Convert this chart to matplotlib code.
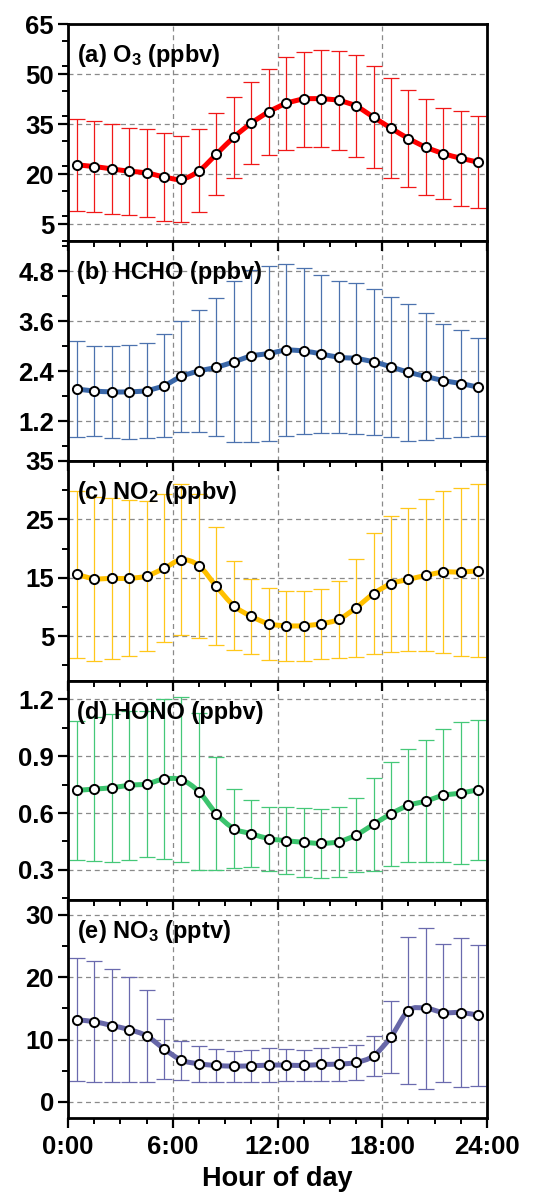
import numpy as np
import matplotlib
matplotlib.use('Agg')
import matplotlib.pyplot as plt
from matplotlib.path import Path
from matplotlib.patches import PathPatch
from matplotlib.ticker import MultipleLocator

plt.rcParams['font.family'] = ['Liberation Sans', 'DejaVu Sans']
plt.rcParams['font.weight'] = 'bold'
plt.rcParams['mathtext.fontset'] = 'custom'
plt.rcParams['mathtext.rm'] = 'Liberation Sans:bold'
plt.rcParams['mathtext.bf'] = 'Liberation Sans:bold'
plt.rcParams['mathtext.it'] = 'Liberation Sans:bold'

hours = np.arange(0.5, 24, 1.0)

o3_mean = [22.8, 22.3, 21.6, 20.9, 20.4, 19.2, 18.5, 21.0, 26.0, 31.1, 35.3, 38.7,
           41.2, 42.5, 42.6, 42.1, 40.4, 37.1, 33.8, 30.7, 28.1, 26.2, 24.8, 23.6]
o3_err = [13.7, 13.6, 13.5, 13.05, 13.25, 13.25, 12.85, 12.45, 12.35, 12.15, 12.25, 12.9,
          13.85, 14.25, 14.55, 14.8, 15.2, 15.3, 15.0, 14.5, 14.3, 13.75, 14.2, 13.75]

hcho_mean = [1.98, 1.93, 1.91, 1.91, 1.94, 2.06, 2.28, 2.41, 2.50, 2.63, 2.77, 2.83,
             2.91, 2.89, 2.82, 2.74, 2.71, 2.63, 2.51, 2.38, 2.28, 2.18, 2.11, 2.02]
hcho_err = [1.15, 1.085, 1.105, 1.13, 1.15, 1.23, 1.33, 1.46, 1.65, 1.93, 2.07, 2.10,
            2.07, 1.99, 1.90, 1.82, 1.81, 1.75, 1.68, 1.64, 1.52, 1.37, 1.29, 1.18]

no2_mean = [15.57, 14.83, 14.89, 14.89, 15.29, 16.6, 18.09, 17.06, 13.51, 10.2, 8.37, 7.11,
            6.77, 6.77, 7.11, 7.86, 9.86, 12.26, 13.97, 14.71, 15.4, 15.97, 15.97, 16.2]
no2_err = [14.31, 14.06, 13.74, 13.37, 12.83, 12.69, 12.97, 12.34, 10.11, 7.63, 6.49, 6.14,
           5.97, 5.97, 6.03, 6.63, 8.43, 10.4, 11.69, 12.31, 13.03, 13.83, 14.34, 14.83]

hono_mean = [0.719, 0.726, 0.733, 0.746, 0.753, 0.779, 0.775, 0.712, 0.596, 0.518, 0.491, 0.465,
             0.454, 0.446, 0.440, 0.449, 0.484, 0.540, 0.596, 0.640, 0.663, 0.693, 0.705, 0.723]
hono_err = [0.365, 0.379, 0.389, 0.393, 0.384, 0.42, 0.435, 0.412, 0.297, 0.206, 0.175, 0.169,
            0.175, 0.181, 0.182, 0.184, 0.196, 0.243, 0.274, 0.299, 0.321, 0.349, 0.375, 0.368]

no3_mean = [13.15, 12.88, 12.24, 11.6, 10.59, 8.5, 6.69, 6.1, 5.83, 5.73, 5.78, 5.89,
            5.89, 5.83, 6.0, 6.05, 6.32, 7.38, 10.43, 14.65, 15.02, 14.33, 14.33, 13.9]
no3_err = [9.88, 9.77, 9.13, 8.36, 7.34, 4.81, 3.15, 2.86, 2.62, 2.48, 2.54, 2.67,
           2.62, 2.54, 2.59, 2.67, 2.8, 3.18, 5.82, 11.85, 12.95, 11.08, 11.9, 11.35]

labels = [r"(a) O$_{3}$ (ppbv)", "(b) HCHO (ppbv)", r"(c) NO$_{2}$ (ppbv)",
          "(d) HONO (ppbv)", r"(e) NO$_{3}$ (pptv)"]
means = [o3_mean, hcho_mean, no2_mean, hono_mean, no3_mean]
errs = [o3_err, hcho_err, no2_err, hono_err, no3_err]
line_colors = ['#FF0000', '#3A67A8', '#FFC000', '#3CC46E', '#6767A8']
bar_colors = ['#F01818', '#4C72AE', '#FFC71A', '#45C878', '#6A6AAE']
ylims = [(0, 65), (0.25, 5.53), (-2.7, 35), (0.142, 1.295), (-2.6, 32.4)]
ymajor = [[5, 20, 35, 50, 65], [1.2, 2.4, 3.6, 4.8], [5, 15, 25, 35],
          [0.3, 0.6, 0.9, 1.2], [0, 10, 20, 30]]
ytick_labels = [["5", "20", "35", "50", "65"], ["1.2", "2.4", "3.6", "4.8"],
                ["5", "15", "25", "35"], ["0.3", "0.6", "0.9", "1.2"],
                ["0", "10", "20", "30"]]
xticks = [0, 6, 12, 18, 24]
xtick_labels = ["0:00", "6:00", "12:00", "18:00", "24:00"]

W, H = 538, 1200
fig = plt.figure(figsize=(W / 100, H / 100), dpi=100)
edges = [24, 241, 461, 681, 900, 1118]
left, right = 68, 487


def smooth_path(x, y):
    x = np.asarray(x, float)
    y = np.asarray(y, float)
    px = np.concatenate([[x[0]], x, [x[-1]]])
    py = np.concatenate([[y[0]], y, [y[-1]]])
    verts = [(x[0], y[0])]
    codes = [Path.MOVETO]
    for i in range(1, len(px) - 2):
        c1 = (px[i] + (px[i + 1] - px[i - 1]) / 6, py[i] + (py[i + 1] - py[i - 1]) / 6)
        c2 = (px[i + 1] - (px[i + 2] - px[i]) / 6, py[i + 1] - (py[i + 2] - py[i]) / 6)
        verts += [c1, c2, (px[i + 1], py[i + 1])]
        codes += [Path.CURVE4] * 3
    return Path(verts, codes)


axes = []
for k in range(5):
    top, bot = edges[k], edges[k + 1]
    ax = fig.add_axes([left / W, 1 - bot / H, (right - left) / W, (bot - top) / H])
    axes.append(ax)
    m = means[k]
    e = errs[k]
    ax.errorbar(hours, m, yerr=e, fmt='none', ecolor=bar_colors[k], elinewidth=0.9,
                capsize=5.5, capthick=0.9, zorder=2)
    ax.add_patch(PathPatch(smooth_path(hours, m), fill=False, edgecolor=line_colors[k],
                           lw=3.6, zorder=3, capstyle='round', joinstyle='round'))
    ax.plot(hours, m, linestyle='none', marker='o', markersize=6.6, markerfacecolor='white',
            markeredgecolor='black', markeredgewidth=1.4, zorder=4)
    ax.set_xlim(0, 24)
    ax.set_ylim(*ylims[k])
    ax.set_yticks(ymajor[k])
    ax.set_yticklabels(ytick_labels[k])
    step = ymajor[k][1] - ymajor[k][0]
    ax.yaxis.set_minor_locator(MultipleLocator(step / 2))
    ax.set_xticks(xticks)
    ax.xaxis.set_minor_locator(MultipleLocator(1.5))
    ax.grid(True, which='major', color='#8a8a8a', linestyle=(0, (4, 3)), linewidth=0.9, zorder=1)
    ax.set_axisbelow(True)
    for sp in ax.spines.values():
        sp.set_linewidth(2.0)
        sp.set_color('black')
    ax.tick_params(axis='y', which='major', direction='out', length=7, width=1.6,
                   labelsize=18.5, pad=3, right=False)
    ax.tick_params(axis='y', which='minor', direction='out', length=4, width=1.4, right=False)
    if k == 4:
        ax.tick_params(axis='x', which='major', direction='out', length=7, width=1.6,
                       labelsize=18.5, pad=5, top=True)
        ax.tick_params(axis='x', which='minor', direction='out', length=4, width=1.4, top=True)
        ax.set_xticklabels(xtick_labels)
        ax.set_xlabel("Hour of day", fontsize=19.5, fontweight='bold', labelpad=5)
    else:
        ax.tick_params(axis='x', which='major', direction='out', length=0, width=1.6,
                       labelbottom=False, top=(k > 0))
        ax.tick_params(axis='x', which='minor', direction='out', length=0, top=(k > 0))
    ax.text(0.022, 0.855, labels[k], transform=ax.transAxes, fontsize=17,
            fontweight='bold', ha='left', va='center', zorder=6)
    for lab in ax.get_yticklabels() + ax.get_xticklabels():
        lab.set_fontweight('bold')

# ticks on the top edges of panels b-e point into the panel
for ax in axes[1:]:
    ax.tick_params(axis='x', which='major', top=True, length=7, width=1.6)
    ax.tick_params(axis='x', which='minor', top=True, length=4, width=1.4)
    for t in ax.xaxis.get_major_ticks() + ax.xaxis.get_minor_ticks():
        t.tick2line.set_marker(3)
for ax in axes[:4]:
    for t in ax.xaxis.get_major_ticks() + ax.xaxis.get_minor_ticks():
        t.tick1line.set_visible(False)

fig.savefig('out.png', dpi=100)
